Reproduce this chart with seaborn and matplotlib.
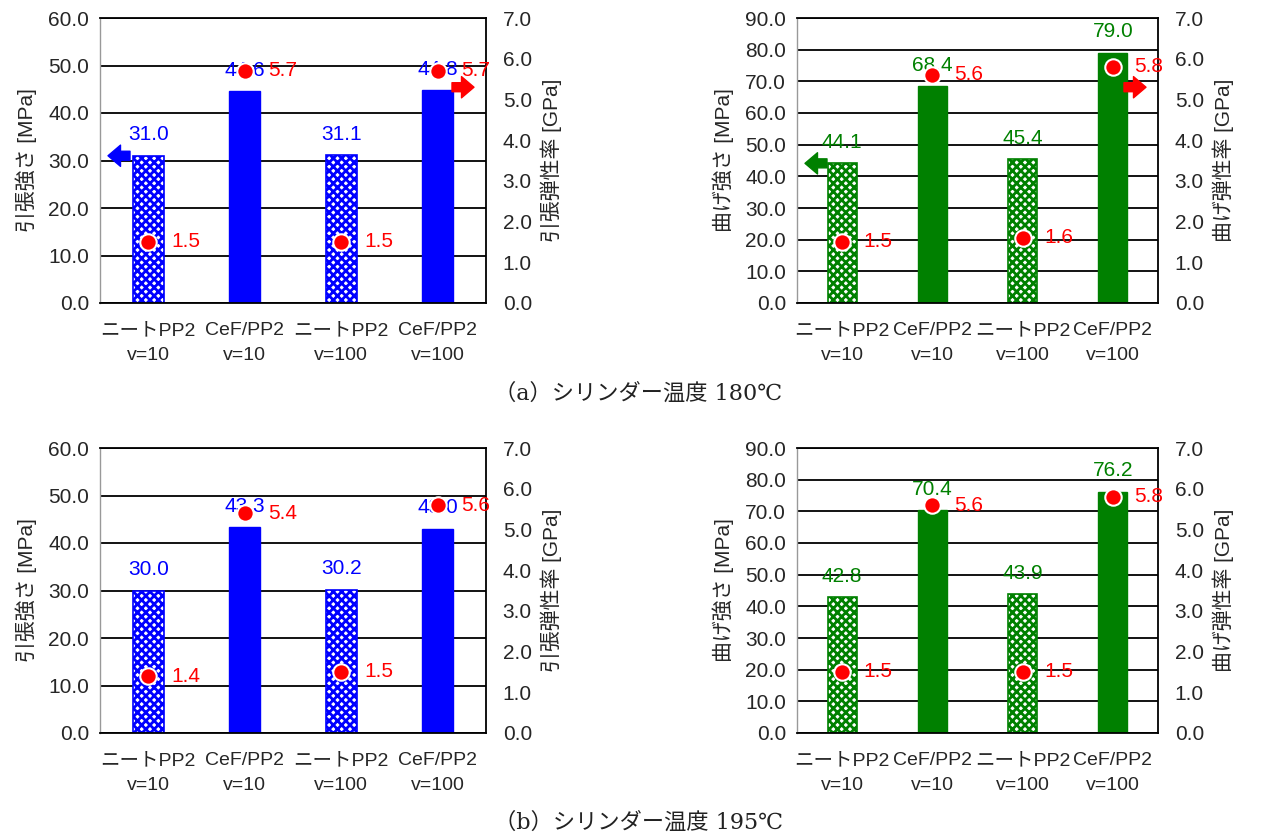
import matplotlib
matplotlib.use("Agg")
import matplotlib.pyplot as plt
import seaborn as sns
import numpy as np

sns.set_theme(style="white")
plt.rcParams['font.family'] = ['Liberation Sans', 'Noto Sans CJK JP']
plt.rcParams['hatch.linewidth'] = 2.0

categories = ["ニートPP2\nv=10", "CeF/PP2\nv=10", "ニートPP2\nv=100", "CeF/PP2\nv=100"]

tensile_180 = [31.0, 44.6, 31.1, 44.8]
tensile_mod_180 = [1.5, 5.7, 1.5, 5.7]
flex_180 = [44.1, 68.4, 45.4, 79.0]
flex_mod_180 = [1.5, 5.6, 1.6, 5.8]
tensile_195 = [30.0, 43.3, 30.2, 43.0]
tensile_mod_195 = [1.4, 5.4, 1.5, 5.6]
flex_195 = [42.8, 70.4, 43.9, 76.2]
flex_mod_195 = [1.5, 5.6, 1.5, 5.8]

left_ticks_tensile = [0, 10, 20, 30, 40, 50, 60]
left_ticks_flex = [0, 10, 20, 30, 40, 50, 60, 70, 80, 90]
right_ticks = [0, 1, 2, 3, 4, 5, 6, 7]

captions = ["（a）シリンダー温度 180℃", "（b）シリンダー温度 195℃"]

BLUE = "#0000FF"
GREEN = "#008000"
RED = "#FF0000"
FS = 15

fig = plt.figure(figsize=(12.76, 8.36), dpi=100)

W_L = 386 / 1276
W_R = 361 / 1276
H = 285 / 836
pos = {
    (0, 0): [100 / 1276, 1 - 303 / 836, W_L, H],
    (0, 1): [797 / 1276, 1 - 303 / 836, W_R, H],
    (1, 0): [100 / 1276, 1 - 733 / 836, W_L, H],
    (1, 1): [797 / 1276, 1 - 733 / 836, W_R, H],
}

ARROW = "simple,head_length=0.5,head_width=0.85,tail_width=0.36"


def panel(rc, vals, mods, color, lticks, lname, rname, arrows):
    ax = fig.add_axes(pos[rc])
    x = np.arange(len(categories))
    sns.barplot(x=categories, y=vals, ax=ax, width=0.32, color=color,
                saturation=1, zorder=2)
    for i, p in enumerate(ax.patches):
        if i % 2 == 0:
            p.set_facecolor("white")
            p.set_hatch("xxxx")
            p.set_edgecolor(color)
            p.set_linewidth(1.2)
        else:
            p.set_facecolor(color)
            p.set_edgecolor(color)
    ymax = lticks[-1]
    ax.set_ylim(0, ymax)
    ax.set_xlim(-0.5, 3.5)
    ax.set_yticks(lticks)
    ax.set_yticklabels([f"{t:.1f}" for t in lticks], fontsize=FS)
    ax.set_xticks(x)
    ax.set_xticklabels(categories, fontsize=14, linespacing=1.6)
    ax.tick_params(axis="y", length=0, pad=8)
    ax.tick_params(axis="x", length=0, pad=14)
    ax.yaxis.grid(True, color="black", lw=1.3)
    ax.xaxis.grid(False)
    ax.set_axisbelow(True)
    for s in ["top", "right", "bottom"]:
        ax.spines[s].set_color("black")
        ax.spines[s].set_linewidth(1.3)
    ax.spines["left"].set_color("#999999")
    ax.spines["left"].set_linewidth(1.0)
    ax.set_ylabel(lname, fontsize=FS, labelpad=8)
    ax.set_xlabel("")
    for xi, v in zip(x, vals):
        ax.text(xi, v + ymax * 0.04, f"{v:.1f}", ha="center", va="bottom",
                color=color, fontsize=FS, zorder=3)

    ax2 = ax.twinx()
    sns.scatterplot(x=x, y=mods, ax=ax2, s=140, color=RED, edgecolor="white",
                    linewidth=1.5, zorder=5, legend=False)
    ax2.set_ylim(0, 7)
    ax2.set_xlim(-0.5, 3.5)
    ax2.set_yticks(right_ticks)
    ax2.set_yticklabels([f"{t:.1f}" for t in right_ticks], fontsize=FS)
    ax2.tick_params(length=0, pad=12)
    ax2.set_ylabel(rname, fontsize=FS, rotation=90, labelpad=6)
    for s in ax2.spines.values():
        s.set_visible(False)
    ax2.grid(False)
    for xi, m in zip(x, mods):
        ax2.text(xi + 0.24, m, f"{m:.1f}", ha="left", va="center",
                 color=RED, fontsize=FS, zorder=6)

    if arrows:
        ppu = pos[rc][2] * 1276 / 4.0
        ay = vals[0]
        ax.annotate("", xy=(-0.5 + 8 / ppu, ay), xytext=(-0.5 + 30 / ppu, ay),
                    arrowprops=dict(arrowstyle=ARROW, fc=color, ec=color,
                                    mutation_scale=18, shrinkA=0, shrinkB=0),
                    zorder=4)
        ry = 5.3
        xr = 3.5 - 34 / ppu
        ax2.annotate("", xy=(xr + 22 / ppu, ry), xytext=(xr, ry),
                     arrowprops=dict(arrowstyle=ARROW, fc=RED, ec=RED,
                                     mutation_scale=18, shrinkA=0, shrinkB=0),
                     zorder=6)
    return ax


panel((0, 0), tensile_180, tensile_mod_180, BLUE, left_ticks_tensile,
      "引張強さ [MPa]", "引張弾性率 [GPa]", True)
panel((0, 1), flex_180, flex_mod_180, GREEN, left_ticks_flex,
      "曲げ強さ [MPa]", "曲げ弾性率 [GPa]", True)
panel((1, 0), tensile_195, tensile_mod_195, BLUE, left_ticks_tensile,
      "引張強さ [MPa]", "引張弾性率 [GPa]", False)
panel((1, 1), flex_195, flex_mod_195, GREEN, left_ticks_flex,
      "曲げ強さ [MPa]", "曲げ弾性率 [GPa]", False)

fig.text(0.5, 1 - 394 / 836, captions[0], ha="center", va="center",
         fontsize=16, color="#222222", family=["DejaVu Serif", "Noto Sans CJK JP"])
fig.text(0.5, 1 - 823 / 836, captions[1], ha="center", va="center",
         fontsize=16, color="#222222", family=["DejaVu Serif", "Noto Sans CJK JP"])

fig.savefig("out.png", dpi=100)
